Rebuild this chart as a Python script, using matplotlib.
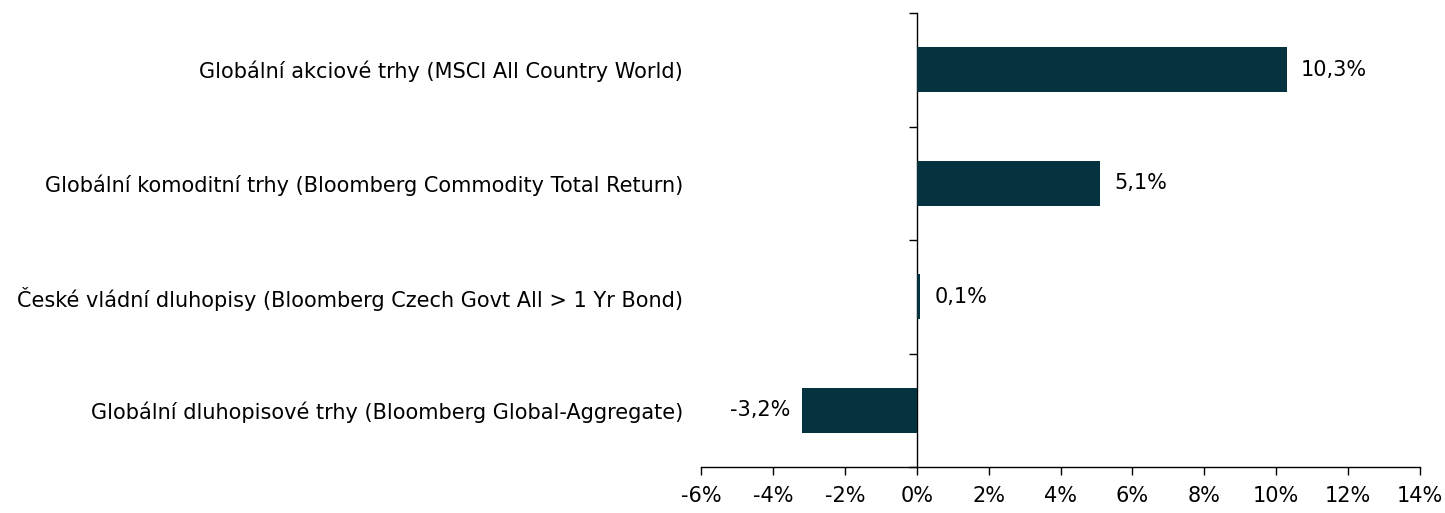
import matplotlib
matplotlib.use("Agg")
import matplotlib.pyplot as plt

categories = [
    "Globální akciové trhy (MSCI All Country World)",
    "Globální komoditní trhy (Bloomberg Commodity Total Return)",
    "České vládní dluhopisy (Bloomberg Czech Govt All > 1 Yr Bond)",
    "Globální dluhopisové trhy (Bloomberg Global-Aggregate)",
]
values = [10.3, 5.1, 0.1, -3.2]
value_labels = ["10,3%", "5,1%", "0,1%", "-3,2%"]
xticks = [-6, -4, -2, 0, 2, 4, 6, 8, 10, 12, 14]
xtick_labels = [f"{t}%" for t in xticks]

plt.rcParams['font.family'] = ['DejaVu Sans']
bar_color = "#04333F"
fs = 15

fig = plt.figure(figsize=(14.45, 5.13), dpi=100)
ax = fig.add_axes([701/1445, 1 - 467/513, (1420 - 701)/1445, (467 - 13)/513])

n = len(categories)
ypos = list(range(n))[::-1]
ax.barh(ypos, values, height=0.4, color=bar_color, zorder=2)

xmin, xmax = -6, 14
ax.set_xlim(xmin, xmax)
ax.set_ylim(-0.5, n - 0.5)

for y, v, lab in zip(ypos, values, value_labels):
    if v >= 0:
        ax.annotate(lab, (v, y), xytext=(10, 0), textcoords="offset points",
                    ha="left", va="center", fontsize=fs, color="black")
    else:
        ax.annotate(lab, (v, y), xytext=(-8, 0), textcoords="offset points",
                    ha="right", va="center", fontsize=fs, color="black")

ax.set_yticks(ypos)
ax.set_yticklabels(categories, fontsize=fs)
ax.tick_params(axis="y", length=0, pad=13)

ax.set_xticks(xticks)
ax.set_xticklabels(xtick_labels, fontsize=fs)
ax.tick_params(axis="x", direction="out", length=6, width=1, pad=8)

for s in ["left", "right", "top"]:
    ax.spines[s].set_visible(False)
ax.spines["bottom"].set_linewidth(1)

loc = (0 - xmin) / (xmax - xmin)
sec = ax.secondary_yaxis(loc)
boundaries = [i - 0.5 for i in range(n + 1)]
sec.set_yticks(boundaries)
sec.set_yticklabels([""] * len(boundaries))
sec.tick_params(axis="y", direction="out", length=6, width=1)
sec.spines["left"].set_linewidth(1)

fig.savefig("out.png", dpi=100)
